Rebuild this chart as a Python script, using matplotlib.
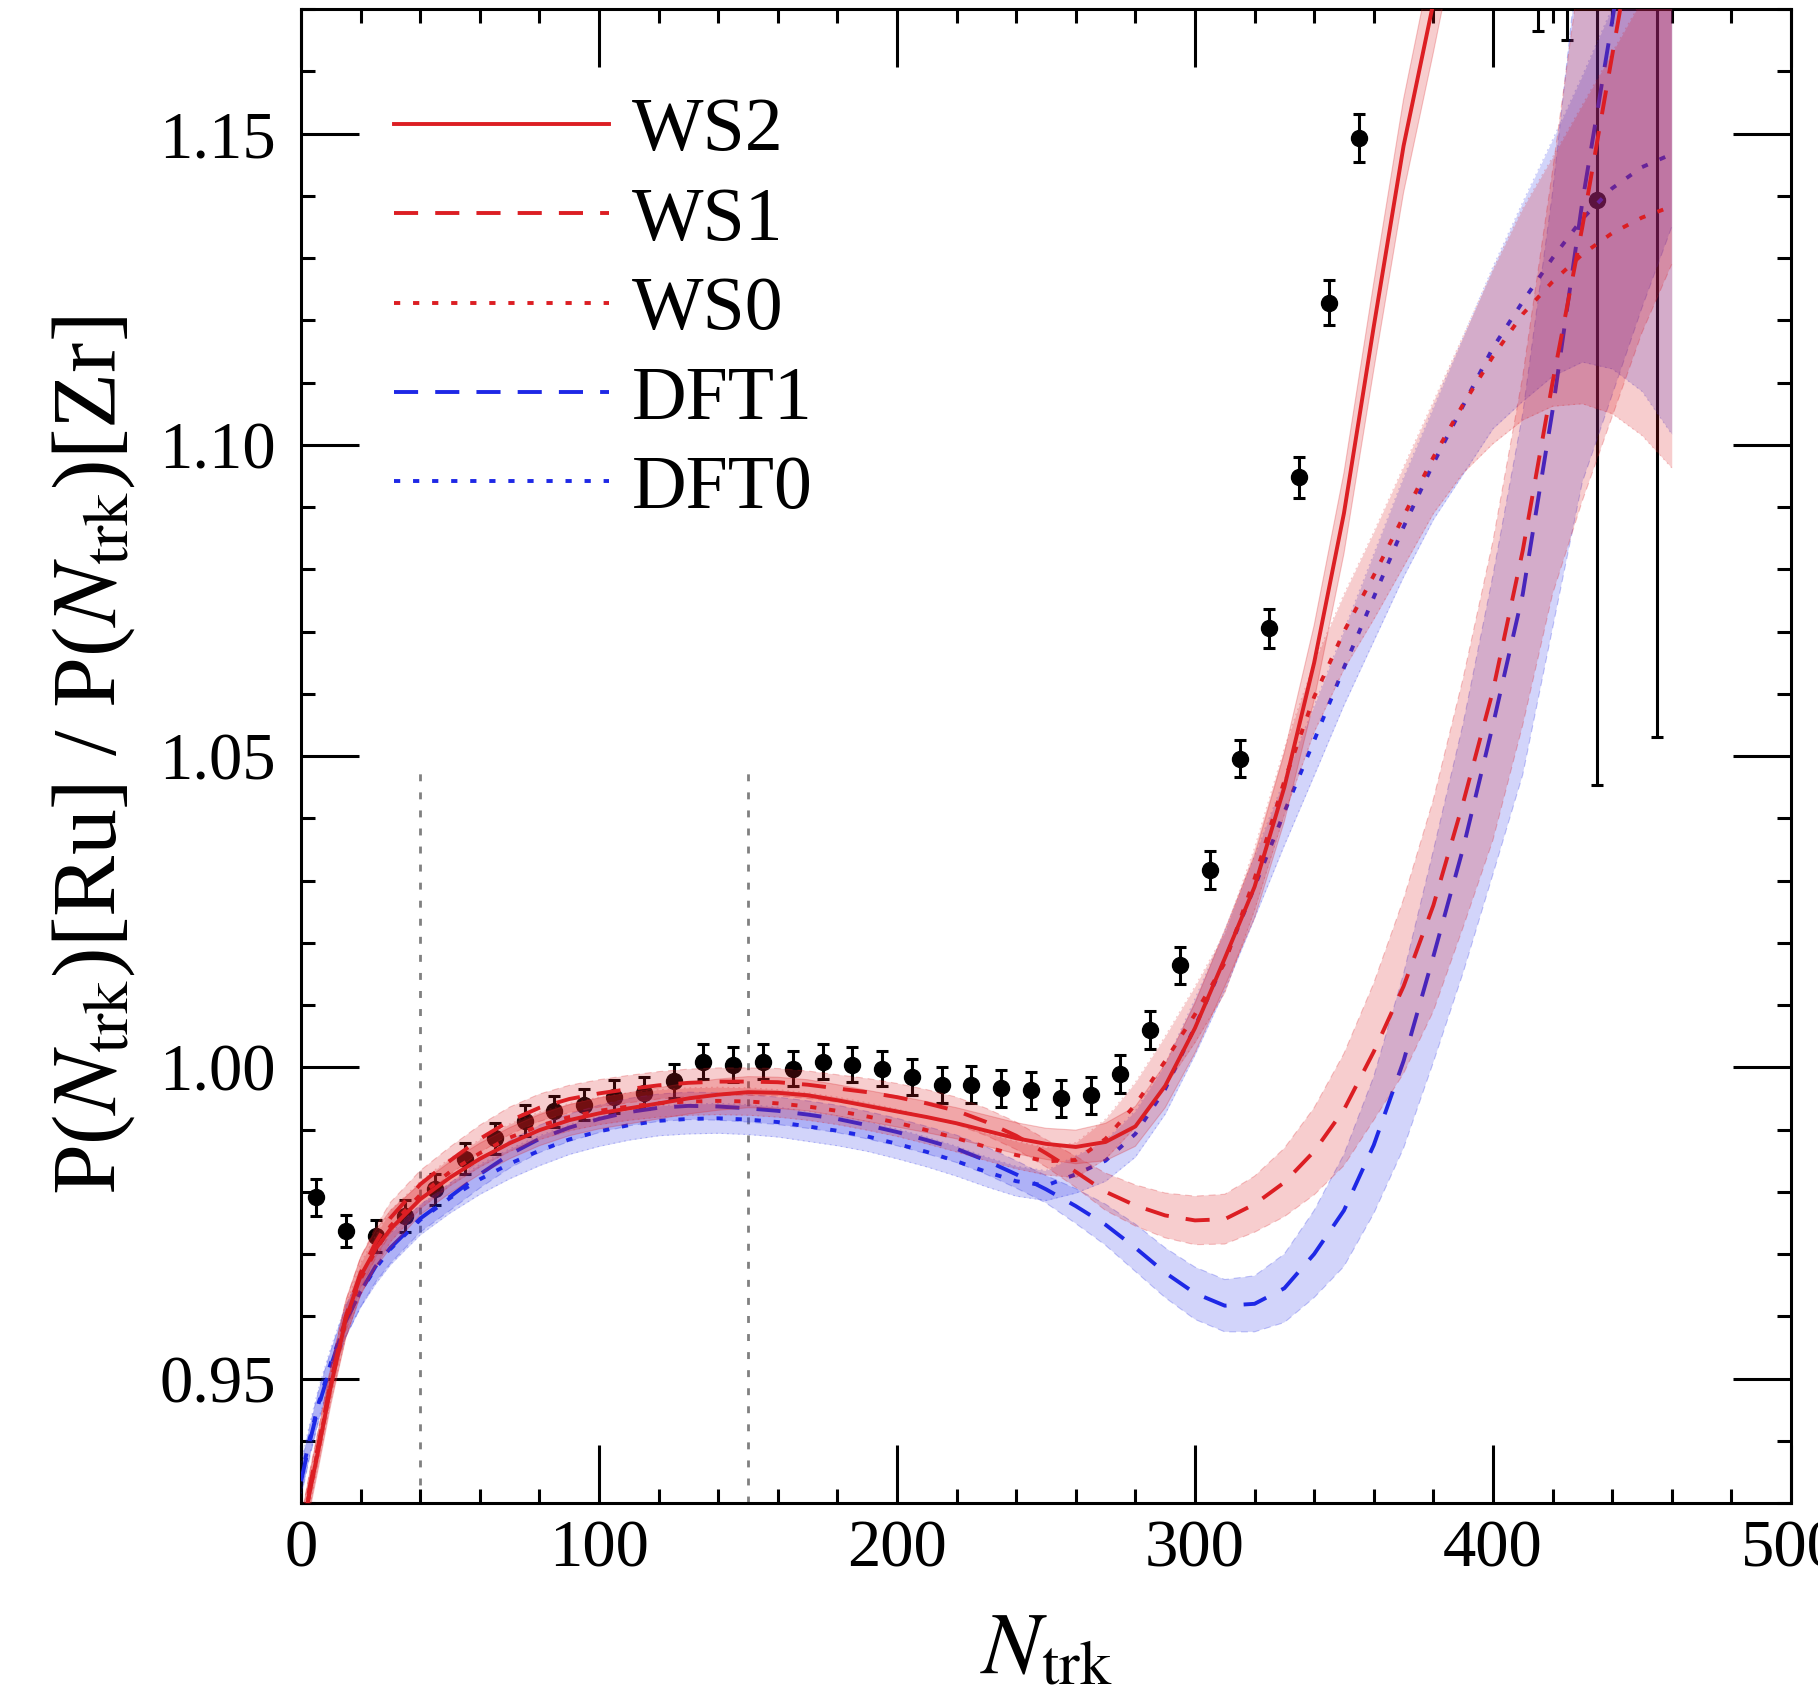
import matplotlib
matplotlib.use('Agg')
import matplotlib.pyplot as plt
from matplotlib.ticker import MultipleLocator, FormatStrFormatter

plt.rcParams['font.family'] = ['Liberation Serif', 'DejaVu Serif']
plt.rcParams['mathtext.fontset'] = 'stix'

# measured ratio P(Ntrk)[Ru] / P(Ntrk)[Zr]
nch = [5, 15, 25, 35, 45, 55, 65, 75, 85, 95, 105, 115, 125, 135, 145, 155, 165,
       175, 185, 195, 205, 215, 225, 235, 245, 255, 265, 275, 285, 295, 305, 315,
       325, 335, 345, 355, 365, 375, 385, 395, 405, 415, 425, 435, 455]
ratio = [0.9791, 0.9737, 0.9729, 0.9761, 0.9804, 0.9853, 0.9886, 0.9914, 0.9929,
         0.9940, 0.9953, 0.9959, 0.9978, 1.0009, 1.0004, 1.0009, 0.9998, 1.0009,
         1.0004, 0.9998, 0.9985, 0.9972, 0.9972, 0.9966, 0.9963, 0.9950, 0.9955,
         0.9989, 1.0060, 1.0164, 1.0317, 1.0496, 1.0705, 1.0948, 1.1228, 1.1493,
         1.182, 1.21, 1.235, 1.255, 1.26, 1.1815, 1.195, 1.1393, 1.22]
ratio_err = [0.003, 0.0025, 0.0025, 0.0025, 0.0025, 0.0025, 0.0025, 0.0025, 0.0025,
             0.0025, 0.0026, 0.0026, 0.0027, 0.0028, 0.0028, 0.0028, 0.0028, 0.0028,
             0.0028, 0.0028, 0.0029, 0.0029, 0.003, 0.003, 0.003, 0.003, 0.003,
             0.003, 0.003, 0.003, 0.003, 0.003, 0.0032, 0.0033, 0.0036, 0.0039,
             0.0045, 0.005, 0.006, 0.008, 0.010, 0.015, 0.030, 0.094, 0.167]

# model calculations
x_model = [0, 3, 6, 10, 15, 20, 25, 30, 40, 50, 60, 70, 80, 90, 100, 110, 120, 130,
           140, 150, 160, 170, 180, 190, 200, 210, 220, 230, 240, 250, 260, 270, 280,
           290, 300, 310, 320, 330, 340, 350, 360, 370, 380, 390, 400, 410, 420, 430,
           440, 450, 460]

ws2 = [0.9245, 0.9320, 0.9390, 0.9488, 0.9595, 0.9665, 0.9708, 0.9740,
       0.9788, 0.9823, 0.9853, 0.9878, 0.9899, 0.9915, 0.9926, 0.9934, 0.9942, 0.9950,
       0.9956, 0.9960, 0.9959, 0.9955, 0.9947, 0.9938, 0.9929, 0.9920, 0.9910, 0.9898,
       0.9886, 0.9877, 0.9872, 0.9880, 0.9905, 0.9970, 1.0063, 1.0175, 1.0290, 1.0450,
       1.0650, 1.0890, 1.1190, 1.1480, 1.1710, 1.1950, 1.2190, 1.2430, 1.2670, 1.2910,
       1.3150, 1.3390, 1.3630]
ws2_err = [0.003, 0.003, 0.003, 0.003, 0.003, 0.003, 0.003, 0.003,
           0.0025, 0.0025, 0.0025, 0.0025, 0.0025, 0.0025, 0.0025, 0.0025, 0.0025, 0.0025,
           0.0025, 0.0025, 0.0025, 0.0025, 0.0025, 0.0025, 0.0025, 0.0025, 0.0025, 0.0025,
           0.0025, 0.0025, 0.0027, 0.003, 0.0032, 0.0035, 0.004, 0.0045, 0.005, 0.0055,
           0.006, 0.0065, 0.007, 0.0075, 0.008, 0.0085, 0.009, 0.0095, 0.010, 0.0105,
           0.011, 0.0115, 0.012]

ws1 = [0.9250, 0.9328, 0.9398, 0.9495, 0.9600, 0.9670, 0.9718, 0.9758,
       0.9812, 0.9850, 0.9885, 0.9914, 0.9935, 0.9949, 0.9958, 0.9965, 0.9971, 0.9975,
       0.9977, 0.9977, 0.9976, 0.9972, 0.9966, 0.9960, 0.9952, 0.9942, 0.9930, 0.9912,
       0.9890, 0.9862, 0.9832, 0.9800, 0.9778, 0.9762, 0.9754, 0.9756, 0.9780, 0.9815,
       0.9865, 0.9932, 1.0025, 1.0130, 1.0260, 1.0425, 1.0605, 1.0830, 1.1100, 1.1350,
       1.1625, 1.1900, 1.2170]
ws1_err = [0.0025, 0.0025, 0.0025, 0.0025, 0.0025, 0.0025, 0.0025, 0.0025,
           0.0022, 0.0022, 0.0022, 0.0022, 0.0022, 0.0022, 0.0022, 0.0022, 0.0022, 0.0022,
           0.0022, 0.0022, 0.0022, 0.0022, 0.0022, 0.0022, 0.0022, 0.0022, 0.0022, 0.0022,
           0.0022, 0.0022, 0.0025, 0.003, 0.0033, 0.0036, 0.0039, 0.004, 0.0045, 0.0055,
           0.007, 0.009, 0.011, 0.014, 0.017, 0.020, 0.024, 0.028, 0.034, 0.044,
           0.058, 0.072, 0.088]

ws0 = [0.9245, 0.9322, 0.9393, 0.9490, 0.9592, 0.9660, 0.9705, 0.9745,
       0.9795, 0.9832, 0.9862, 0.9887, 0.9906, 0.9920, 0.9930, 0.9937, 0.9942, 0.9945,
       0.9946, 0.9945, 0.9942, 0.9937, 0.9930, 0.9921, 0.9911, 0.9899, 0.9886, 0.9872,
       0.9859, 0.9849, 0.9851, 0.9885, 0.9940, 1.0010, 1.0085, 1.0168, 1.0303, 1.0460,
       1.0595, 1.0700, 1.0790, 1.0885, 1.0980, 1.1065, 1.1142, 1.1210, 1.1262, 1.1306,
       1.1340, 1.1365, 1.1383]
ws0_err = [0.0025, 0.0025, 0.0025, 0.0025, 0.0025, 0.0025, 0.0025, 0.0025,
           0.0022, 0.0022, 0.0022, 0.0022, 0.0022, 0.0022, 0.0022, 0.0022, 0.0022, 0.0022,
           0.0022, 0.0022, 0.0022, 0.0022, 0.0022, 0.0022, 0.0022, 0.0022, 0.0022, 0.0022,
           0.0022, 0.0022, 0.0028, 0.0032, 0.0036, 0.004, 0.0045, 0.0048, 0.005, 0.0053,
           0.0056, 0.006, 0.007, 0.008, 0.009, 0.011, 0.014, 0.017, 0.020, 0.024,
           0.029, 0.035, 0.042]

dft1 = [0.9335, 0.9400, 0.9458, 0.9520, 0.9592, 0.9640, 0.9680, 0.9710,
        0.9757, 0.9792, 0.9828, 0.9860, 0.9885, 0.9903, 0.9917, 0.9928, 0.9935, 0.9938,
        0.9937, 0.9934, 0.9930, 0.9924, 0.9917, 0.9907, 0.9896, 0.9883, 0.9869, 0.9850,
        0.9828, 0.9804, 0.9777, 0.9747, 0.9710, 0.9670, 0.9637, 0.9617, 0.9620, 0.9645,
        0.9700, 0.9770, 0.9875, 1.0010, 1.0178, 1.0352, 1.0550, 1.0760, 1.1055, 1.1390,
        1.1680, 1.1980, 1.2280]
dft1_err = [0.0025, 0.0025, 0.0025, 0.0025, 0.0025, 0.0025, 0.0025, 0.0025,
            0.0022, 0.0022, 0.0022, 0.0022, 0.0022, 0.0022, 0.0022, 0.0022, 0.0022, 0.0022,
            0.0022, 0.0022, 0.0022, 0.0022, 0.0022, 0.0022, 0.0022, 0.0022, 0.0022, 0.0022,
            0.0022, 0.0022, 0.0028, 0.0033, 0.0038, 0.004, 0.0042, 0.0042, 0.0045, 0.0055,
            0.007, 0.009, 0.011, 0.014, 0.017, 0.020, 0.024, 0.029, 0.035, 0.045,
            0.060, 0.076, 0.093]

dft0 = [0.9340, 0.9405, 0.9462, 0.9525, 0.9593, 0.9640, 0.9677, 0.9708,
        0.9755, 0.9790, 0.9820, 0.9845, 0.9866, 0.9884, 0.9897, 0.9907, 0.9914, 0.9917,
        0.9918, 0.9916, 0.9912, 0.9905, 0.9898, 0.9889, 0.9877, 0.9864, 0.9849, 0.9832,
        0.9817, 0.9810, 0.9828, 0.9850, 0.9893, 0.9965, 1.0065, 1.0172, 1.0290, 1.0410,
        1.0525, 1.0642, 1.0755, 1.0868, 1.0970, 1.1063, 1.1156, 1.1230, 1.1300, 1.1363,
        1.1412, 1.1446, 1.1467]
dft0_err = [0.0025, 0.0025, 0.0025, 0.0025, 0.0025, 0.0025, 0.0025, 0.0025,
            0.0024, 0.0024, 0.0024, 0.0024, 0.0024, 0.0024, 0.0024, 0.0024, 0.0024, 0.0024,
            0.0024, 0.0024, 0.0024, 0.0024, 0.0024, 0.0024, 0.0024, 0.0024, 0.0024, 0.0024,
            0.0024, 0.0024, 0.003, 0.0033, 0.0037, 0.004, 0.0045, 0.0048, 0.005, 0.0053,
            0.0056, 0.006, 0.007, 0.008, 0.009, 0.011, 0.013, 0.016, 0.019, 0.023,
            0.029, 0.036, 0.045]

cuts = [40, 150]
cut_top = 1.048

red = '#dc1e23'
blue = '#1e28e6'
solid = '-'
dashed = (0, (6.2, 4.4))
dotted = (0, (1.6, 3.3))

# label, values, band, colour, linestyle
models = [
    ('DFT1', dft1, dft1_err, blue, dashed),
    ('DFT0', dft0, dft0_err, blue, dotted),
    ('WS2', ws2, ws2_err, red, solid),
    ('WS1', ws1, ws1_err, red, dashed),
    ('WS0', ws0, ws0_err, red, dotted),
]
legend_order = ['WS2', 'WS1', 'WS0', 'DFT1', 'DFT0']

fig = plt.figure(figsize=(18.18, 17.07), dpi=100)
ax = fig.add_axes([0.1656, 0.1195, 0.8195, 0.8752])

ax.vlines(cuts, 0.93, cut_top, colors='#808080', linestyles=(0, (2.5, 4)),
          linewidth=2.0, zorder=0.5)

ax.errorbar(nch, ratio, yerr=ratio_err, fmt='o', color='black', ms=11.5,
            elinewidth=2.2, capsize=4.5, capthick=2.2, zorder=1)

handles = {}
for i, (name, y, e, c, ls) in enumerate(models):
    lo = [v - d for v, d in zip(y, e)]
    hi = [v + d for v, d in zip(y, e)]
    z = 2 + 2 * i
    band_alpha = 0.2 if c == blue else 0.22
    ax.fill_between(x_model, lo, hi, color=c, alpha=band_alpha, lw=0, zorder=z)
    ax.plot(x_model, lo, color=c, ls=ls, lw=0.8, alpha=0.25, zorder=z)
    ax.plot(x_model, hi, color=c, ls=ls, lw=0.8, alpha=0.25, zorder=z)
    line, = ax.plot(x_model, y, color=c, ls=ls, lw=2.8, zorder=z + 1)
    handles[name] = line

ax.legend([handles[n] for n in legend_order], legend_order, loc='upper left',
          bbox_to_anchor=(0.0624, 0.941), frameon=False, fontsize=54.5,
          handlelength=2.84, handletextpad=0.3, labelspacing=0.27,
          borderpad=0, borderaxespad=0)

ax.set_xlim(0, 500)
ax.set_ylim(0.93, 1.17)
ax.xaxis.set_major_locator(MultipleLocator(100))
ax.xaxis.set_minor_locator(MultipleLocator(20))
ax.yaxis.set_major_locator(MultipleLocator(0.05))
ax.yaxis.set_minor_locator(MultipleLocator(0.01))
ax.yaxis.set_major_formatter(FormatStrFormatter('%.2f'))
ax.tick_params(which='both', direction='in', top=True, right=True, width=2.2,
               labelsize=48)
ax.tick_params(which='major', length=42)
ax.tick_params(which='minor', length=10)
ax.tick_params(axis='x', pad=12)
ax.tick_params(axis='y', pad=18)
for s in ax.spines.values():
    s.set_linewidth(2.2)

ax.set_xlabel(r'$N_{\rm trk}$', fontsize=64, labelpad=22)
ax.set_ylabel(r'P($N_{\rm trk}$)[Ru] / P($N_{\rm trk}$)[Zr]', fontsize=66, labelpad=16)

fig.savefig('out.png', dpi=100)
